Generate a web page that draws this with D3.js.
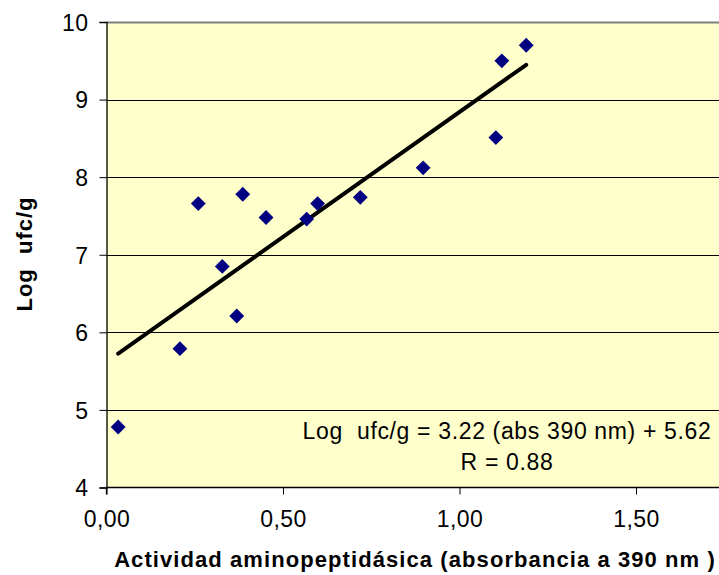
<!DOCTYPE html>
<html><head><meta charset="utf-8">
<script src="https://cdn.jsdelivr.net/npm/d3@7"></script>
<style>
html,body{margin:0;padding:0;background:#fff;}
svg{display:block;font-family:"Liberation Sans",Arial,sans-serif;}
text{white-space:pre;}
</style></head>
<body>
<svg id="c" width="719" height="575"></svg>
<script>
const absorbance = [0.033, 0.208, 0.260, 0.328, 0.369, 0.386, 0.452, 0.567, 0.598, 0.719, 0.897, 1.103, 1.120, 1.189];
const logUfc     = [4.78, 5.79, 7.66, 6.85, 6.21, 7.78, 7.48, 7.46, 7.66, 7.74, 8.12, 8.51, 9.50, 9.70];
const fitSlope = [3.22];
const fitIntercept = [5.62];
const xTicks = [0, 0.5, 1.0, 1.5];
const yTicks = [4, 5, 6, 7, 8, 9, 10];
const eqLines = ["Log  ufc/g = 3.22 (abs 390 nm) + 5.62", "R = 0.88"];

const svg = d3.select("#c");
const L = 106.5, T = 22, B = 487.5, W = 719;
const x = d3.scaleLinear().domain([0, 2]).range([L, L + 4 * 176.5]);
const y = d3.scaleLinear().domain([4, 10]).range([B, T]);

svg.append("rect").attr("x", L).attr("y", T).attr("width", W - L).attr("height", B - T).attr("fill", "#FFFFCC");

// gridlines
svg.append("g").selectAll("line").data(yTicks.filter(d => d > 4 && d < 10)).join("line")
  .attr("x1", L).attr("x2", W).attr("y1", d => Math.round(y(d)) + 0.5).attr("y2", d => Math.round(y(d)) + 0.5)
  .attr("stroke", "#000").attr("stroke-width", 1);
// top border
svg.append("line").attr("x1", L).attr("x2", W).attr("y1", T + 0.5).attr("y2", T + 0.5).attr("stroke", "#808080").attr("stroke-width", 2);

// axes
const fmt = d => d3.format(".2f")(d).replace(".", ",");
const yAxis = svg.append("g").attr("transform", `translate(${L},0)`)
  .call(d3.axisLeft(y).tickValues(yTicks).tickSize(7).tickPadding(11).tickFormat(d3.format("d")));
const xAxis = svg.append("g").attr("transform", `translate(0,${B})`)
  .call(d3.axisBottom(x).tickValues(xTicks).tickSize(7).tickPadding(16).tickFormat(fmt));
[yAxis, xAxis].forEach(g => {
  g.select(".domain").attr("stroke", "#000").attr("stroke-width", 1.3);
  g.selectAll(".tick line").attr("stroke", "#000");
  g.selectAll("text").attr("font-size", 23).attr("letter-spacing", 0.5).attr("fill", "#000").attr("font-family", '"Liberation Sans",Arial,sans-serif');
});
xAxis.select(".domain").attr("d", `M${L},7V0H${W}`);
yAxis.selectAll(".tick text").attr("dy", "0.36em");

// trend line
const xs = d3.extent(absorbance);
svg.append("line")
  .attr("x1", x(xs[0])).attr("y1", y(fitSlope[0] * xs[0] + fitIntercept[0]))
  .attr("x2", x(xs[1])).attr("y2", y(fitSlope[0] * xs[1] + fitIntercept[0]))
  .attr("stroke", "#000").attr("stroke-width", 4).attr("stroke-linecap", "round");

// points
const sym = d3.symbol().type(d3.symbolSquare).size(110);
svg.append("g").selectAll("path").data(absorbance.map((a, i) => [a, logUfc[i]])).join("path")
  .attr("d", sym)
  .attr("transform", d => `translate(${x(d[0])},${y(d[1])}) rotate(45)`)
  .attr("fill", "#000080");

// equation
svg.append("g").selectAll("text").data(eqLines).join("text")
  .attr("x", 507).attr("y", (d, i) => 439 + i * 31)
  .attr("text-anchor", "middle").attr("font-size", 23).attr("letter-spacing", 0.65).attr("fill", "#000")
  .text(d => d);

// axis titles
svg.append("text").attr("x", 415).attr("y", 567).attr("text-anchor", "middle")
  .attr("font-size", 22).attr("letter-spacing", 1.08).attr("font-weight", "bold").text("Actividad aminopeptidásica (absorbancia a 390 nm )");
svg.append("text").attr("transform", "translate(32,254) rotate(-90)").attr("text-anchor", "middle")
  .attr("font-size", 22).attr("letter-spacing", 1).attr("font-weight", "bold").text("Log  ufc/g");
</script>
</body></html>
